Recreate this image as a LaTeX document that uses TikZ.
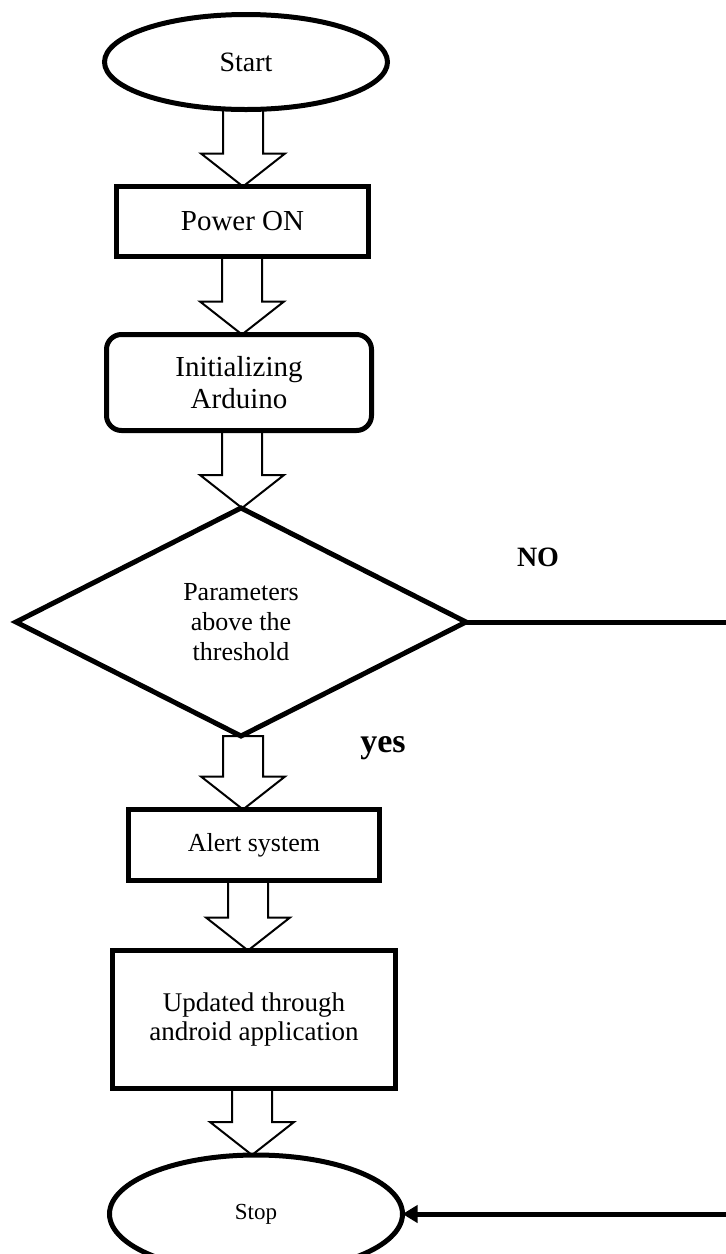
\documentclass[tikz,border=0pt]{standalone}
\usepackage{fontspec}
\setmainfont{Liberation Serif}
\usetikzlibrary{shapes.geometric,calc,arrows.meta}
\tikzset{
  box/.style={draw,line width=5pt,inner sep=0pt,outer sep=0pt,align=center},
  term/.style={box,ellipse},
  decision/.style={box,diamond},
  barrow/.style={draw,line width=2pt,line join=miter},
  flow/.style={draw,line width=5pt},
  lbl/.style={inner sep=0pt,font=\bfseries}
}
\newcommand\blockarr[3]{%
  \draw[barrow] let \p1=(#2.south), \p2=(#3.north) in
    (#1-20,\y1) -- (#1-20,\y2+33) -- (#1-42,\y2+33) -- (#1,\y2)
    -- (#1+42,\y2+33) -- (#1+20,\y2+33) -- (#1+20,\y1) -- cycle;}
\begin{document}
\begin{tikzpicture}[x=1pt,y=1pt]
\useasboundingbox (0,0) rectangle (726,-1254);
\node[term,minimum width=283,minimum height=95,font=\fontsize{28}{32}\selectfont] (start) at (246,-62) {Start};
\node[box,minimum width=252,minimum height=70,font=\fontsize{29}{33}\selectfont] (power) at (242.5,-221.5) {Power ON};
\node[box,rounded corners=15pt,minimum width=265,minimum height=96,font=\fontsize{29}{32}\selectfont] (init) at (239,-382.5) {Initializing\\Arduino};
\node[decision,minimum width=450,minimum height=228,shape aspect=2,font=\fontsize{26}{30}\selectfont] (dec) at (241,-622) {Parameters\\above the\\threshold};
\node[box,minimum width=251,minimum height=71,font=\fontsize{26}{30}\selectfont] (alert) at (254,-845) {Alert system};
\node[box,minimum width=283,minimum height=138,font=\fontsize{27}{29.5}\selectfont] (upd) at (254,-1019.5) {Updated through\\android application};
\node[term,minimum width=293,minimum height=118,font=\fontsize{23}{27}\selectfont] (stop) at (256,-1214) {Stop};
\node[lbl,font=\bfseries\fontsize{28}{32}\selectfont] (no) at (538,-557) {NO};
\node[lbl,font=\bfseries\fontsize{34}{38}\selectfont] (yes) at (383,-748) {yes};
\coordinate (noend) at (726,-622);
\coordinate (back) at (726,-1214);
\blockarr{243}{start}{power}
\blockarr{242}{power}{init}
\blockarr{242}{init}{dec}
\blockarr{243}{dec}{alert}
\blockarr{248}{alert}{upd}
\blockarr{252}{upd}{stop}
\draw[flow] (dec.east) -- (dec.east -| noend);
\draw[flow,-{Triangle[length=15pt,width=17pt]}] (back) -- (stop.east);
\end{tikzpicture}
\end{document}
